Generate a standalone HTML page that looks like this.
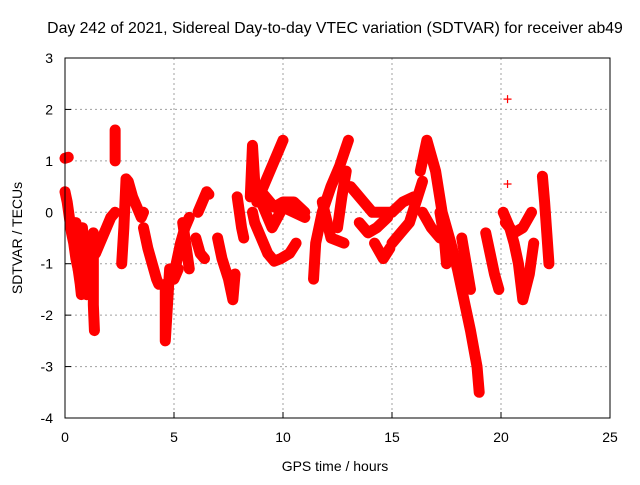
<!DOCTYPE html>
<html><head><meta charset="utf-8"><style>
body{margin:0;background:#fff;}
svg text{font-family:"Liberation Sans",sans-serif;font-size:14px;fill:#000;}
</style></head><body>
<svg id="chart" width="640" height="480">
<text x="335" y="33" text-anchor="middle" style="font-size:15.8px">Day 242 of 2021, Sidereal Day-to-day VTEC variation (SDTVAR) for receiver ab49</text>
<text x="335" y="471" text-anchor="middle">GPS time / hours</text>
<text transform="translate(22,238) rotate(-90)" text-anchor="middle">SDTVAR / TECUs</text>
<g id="grid"></g><g id="ticks"></g><g id="marks"></g>
<rect x="65" y="58" width="545" height="360" fill="none" stroke="#000" stroke-width="1"/>
</svg>
<script>
const xTicks=[0,5,10,15,20,25];
const yTicks=[3,2,1,0,-1,-2,-3,-4];
const trackTimes=[
[0.0,0.15],
[0.0,0.1,0.2,0.3,0.4,0.5,0.6,0.8,0.9,1.0],
[0.5,0.55,0.6,0.7,0.75],
[0.8,0.85,0.9,1.0,1.05,1.0],
[1.3,1.3,1.3,1.35],
[1.4,1.6,1.9,2.1,2.3],
[2.3,2.3,2.3,2.3],
[2.6,2.7,2.8,2.9,3.1,3.3,3.5,3.6],
[3.6,3.8,4.0,4.2,4.3],
[4.6,4.6,4.7,4.8,5.0,5.2],
[5.1,5.3,5.5,5.7],
[5.4,5.5,5.6,5.7],
[6.1,6.3,6.5,6.6],
[6.0,6.2,6.4],
[7.0,7.2,7.5,7.7,7.8],
[7.9,8.0,8.1,8.2],
[8.5,8.6,8.7,8.8,9.3,9.7,10.0],
[8.6,8.7,9.0,9.3,9.6,9.9,10.3,10.6],
[9.0,9.5,10.0,10.5,11.0],
[8.8,9.2,9.6,10.0,10.5,11.0],
[11.4,11.5,11.8,12.2,12.6,13.0],
[11.8,12.2,12.8],
[12.5,12.7,12.9],
[13.1,13.3,13.7,14.1,14.5,15.0],
[13.5,13.9,14.3,14.8],
[14.2,14.6,14.9],
[15.0,15.4,15.8,16.1,16.4],
[15.0,15.5,16.0],
[16.3,16.6,17.0,17.3,17.7,18.0,18.3,18.6,18.9,19.0],
[16.4,16.8,17.2],
[17.2,17.4,17.5],
[18.2,18.4,18.6],
[19.3,19.5,19.7,19.9],
[20.1,20.4,20.6,20.8,21.0,21.3,21.5],
[20.2,20.6,21.0,21.4],
[21.9,22.0,22.1,22.2],
[20.3],[20.3]
];
const trackValues=[
[1.05,1.07],
[0.4,0.2,-0.1,-0.4,-0.6,-0.9,-1.1,-1.3,-1.5,-1.6],
[-0.2,-0.7,-1.1,-1.4,-1.6],
[-0.3,-0.6,-0.9,-1.2,-1.5,-1.6],
[-0.4,-1.2,-1.8,-2.3],
[-0.8,-0.6,-0.3,-0.1,0.0],
[1.6,1.5,1.2,1.0],
[-1.0,-0.3,0.65,0.6,0.3,0.1,-0.1,0.0],
[-0.3,-0.7,-1.0,-1.3,-1.4],
[-1.4,-2.5,-1.8,-1.1,-1.3,-1.1],
[-1.0,-0.6,-0.3,-0.1],
[-0.2,-0.5,-0.8,-1.1],
[0.0,0.2,0.4,0.35],
[-0.5,-0.8,-0.9],
[-0.5,-0.9,-1.3,-1.7,-1.2],
[0.3,0.0,-0.3,-0.5],
[0.3,1.3,0.6,0.2,0.7,1.1,1.4],
[0.0,-0.2,-0.5,-0.8,-0.95,-0.9,-0.8,-0.6],
[0.2,-0.3,0.1,0.0,-0.1],
[0.5,0.3,0.1,0.2,0.2,0.0],
[-1.3,-0.6,0.0,0.5,0.9,1.4],
[0.2,-0.5,-0.6],
[-0.3,0.3,0.8],
[0.5,0.4,0.2,0.0,0.0,0.0],
[-0.2,-0.4,-0.3,-0.1],
[-0.6,-0.9,-0.7],
[-0.6,-0.4,-0.2,0.2,0.6],
[0.0,0.2,0.3],
[0.8,1.4,0.8,0.0,-0.6,-1.1,-1.7,-2.3,-3.0,-3.5],
[0.0,-0.3,-0.5],
[0.0,-0.5,-1.0],
[-0.5,-1.0,-1.5],
[-0.4,-0.8,-1.2,-1.5],
[0.0,-0.3,-0.6,-1.0,-1.7,-1.2,-0.6],
[-0.2,-0.4,-0.3,0.0],
[0.7,0.2,-0.4,-1.0],
[2.2],[0.55]
];
const NS="http://www.w3.org/2000/svg";
const X0=65,X1=610,Y0=418,Y1=58;
function xs(t){return X0+(t-0)/25*(X1-X0);}
function ys(v){return Y0-(v+4)/7*(Y0-Y1);}
const grid=document.getElementById('grid'),ticks=document.getElementById('ticks'),marks=document.getElementById('marks');
function mk(tag,at,parent){const e=document.createElementNS(NS,tag);for(const k in at)e.setAttribute(k,at[k]);parent.appendChild(e);return e;}
xTicks.forEach(t=>{
 const x=xs(t);
 if(t>0&&t<25){const g=mk('line',{x1:x,x2:x,y1:Y1,y2:Y0,stroke:'#a0a0a0','stroke-dasharray':'2,3'},grid);
 
 }
 const l=mk('text',{x:x,y:Y0+24,'text-anchor':'middle'},ticks);l.textContent=t;
 
 
 mk('line',{x1:x,x2:x,y1:Y0,y2:Y0-6,stroke:'#000'},ticks);
});
yTicks.forEach(v=>{
 const y=ys(v);
 if(v>-4&&v<3){const g=mk('line',{x1:X0,x2:X1,y1:y,y2:y,stroke:'#a0a0a0','stroke-dasharray':'2,3'},grid);
 
 }
 const l=mk('text',{x:X0-12,y:y+5,'text-anchor':'end'},ticks);l.textContent=v;
 
 
 mk('line',{x1:X0,x2:X0+6,y1:y,y2:y,stroke:'#000'},ticks);
});
trackTimes.forEach((ts,i)=>{
 const vs=trackValues[i];
 const pts=ts.map((t,j)=>xs(t)+','+ys(vs[j])).join(' ');
 if(ts.length>1){const p=mk('polyline',{points:pts,fill:'none',stroke:'#ff0000','stroke-width':11,'stroke-linejoin':'round','stroke-linecap':'round'},marks);
 
 }
 ts.forEach((t,j)=>{
  const x=xs(t),y=ys(vs[j]);
  const c=mk('path',{d:`M${x-4},${y}h8M${x},${y-4}v8`,stroke:'#ff0000','stroke-width':1.2},marks);
  
  
 });
});
</script>
</body></html>
